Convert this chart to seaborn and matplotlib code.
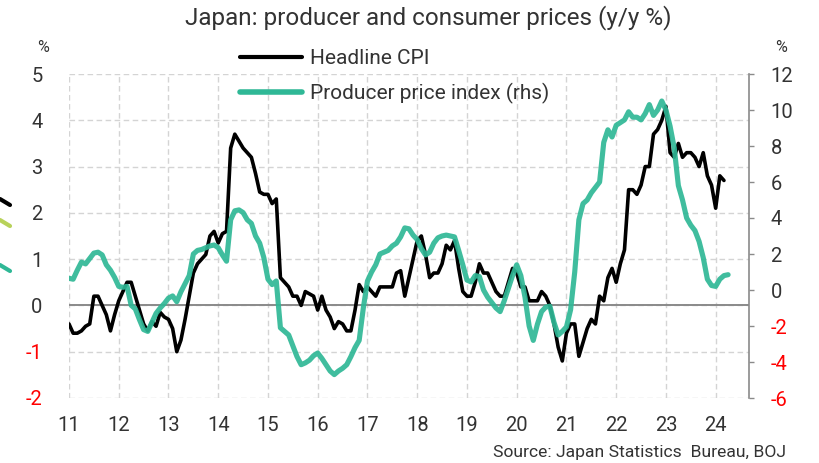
import matplotlib
matplotlib.use("Agg")
import matplotlib.pyplot as plt
from matplotlib.lines import Line2D
import numpy as np
import pandas as pd
import seaborn as sns

# ---- data (monthly, y/y %) ----
start_year = 2011
years = list(range(2011, 2025))
year_labels = [str(y)[2:] for y in years]

# Headline CPI, Jan 2011 - Mar 2024 (left axis)
cpi = [
    -0.4, -0.6, -0.6, -0.55, -0.45, -0.4, 0.2, 0.2, 0.0, -0.2, -0.55, -0.2,
    0.1, 0.3, 0.5, 0.5, 0.2, -0.1, -0.4, -0.55, -0.35, -0.45, -0.15, -0.25,
    -0.3, -0.5, -1.0, -0.75, -0.3, 0.2, 0.7, 0.9, 1.0, 1.1, 1.5, 1.6,
    1.35, 1.55, 1.6, 3.4, 3.7, 3.55, 3.4, 3.3, 3.2, 2.85, 2.45, 2.4,
    2.4, 2.2, 2.3, 0.6, 0.5, 0.4, 0.2, 0.2, 0.0, 0.3, 0.25, 0.2,
    -0.1, 0.2, -0.1, -0.25, -0.5, -0.35, -0.4, -0.55, -0.55, -0.1, 0.45, 0.3,
    0.4, 0.3, 0.2, 0.4, 0.4, 0.4, 0.4, 0.7, 0.75, 0.2, 0.6, 1.0,
    1.4, 1.5, 1.1, 0.6, 0.7, 0.7, 0.9, 1.3, 1.2, 1.4, 0.8, 0.3,
    0.2, 0.2, 0.5, 0.9, 0.7, 0.7, 0.5, 0.3, 0.2, 0.2, 0.5, 0.8,
    0.7, 0.4, 0.4, 0.1, 0.1, 0.1, 0.3, 0.2, 0.0, -0.4, -0.9, -1.2,
    -0.6, -0.4, -0.4, -1.1, -0.8, -0.5, -0.3, -0.4, 0.2, 0.1, 0.6, 0.8,
    0.5, 0.9, 1.2, 2.5, 2.5, 2.4, 2.6, 3.0, 3.0, 3.7, 3.8, 4.0,
    4.3, 3.3, 3.2, 3.5, 3.2, 3.3, 3.3, 3.2, 3.0, 3.3, 2.8, 2.6,
    2.1, 2.8, 2.7,
]

# Producer price index, Jan 2011 - Apr 2024 (right axis)
ppi = [
    0.65, 0.6, 1.1, 1.55, 1.45, 1.75, 2.05, 2.1, 1.95, 1.4, 1.1, 0.7,
    0.2, 0.15, 0.2, -0.85, -1.05, -1.65, -2.2, -2.3, -1.8, -1.3, -1.0, -0.75,
    -0.45, -0.33, -0.65, -0.1, 0.35, 0.8, 2.0, 2.2, 2.25, 2.35, 2.45, 2.5,
    2.35, 1.95, 1.6, 3.9, 4.4, 4.45, 4.3, 3.9, 3.7, 3.0, 2.6, 1.8,
    0.6, 0.3, 0.5, -2.1, -2.3, -2.5, -3.1, -3.7, -4.15, -4.05, -3.9, -3.65,
    -3.5, -3.8, -4.15, -4.5, -4.7, -4.5, -4.35, -4.15, -3.7, -3.2, -2.8, -1.0,
    0.5, 1.0, 1.4, 2.0, 2.1, 2.2, 2.45, 2.6, 2.95, 3.45, 3.4, 3.05,
    2.8, 2.3, 1.95, 2.1, 2.6, 2.9, 3.0, 3.05, 3.0, 2.95, 2.2, 1.4,
    0.55, 0.45, 0.8, 0.75, 0.0, -0.4, -0.7, -1.0, -1.2, -0.6, 0.1, 0.8,
    1.4, 0.8, -0.4, -2.0, -2.8, -1.9, -1.2, -0.95, -0.9, -1.8, -2.5, -2.3,
    -2.05, -1.1, 1.0, 3.9, 4.8, 5.0, 5.4, 5.7, 6.0, 8.2, 8.9, 8.5,
    9.15, 9.3, 9.45, 9.9, 9.6, 9.6, 9.45, 9.8, 10.3, 9.7, 10.0, 10.5,
    10.0, 9.1, 7.9, 5.8, 5.0, 4.0, 3.6, 3.3, 2.7, 1.8, 0.6, 0.25,
    0.2, 0.6, 0.8, 0.85,
]

left_ticks = [-2, -1, 0, 1, 2, 3, 4, 5]
right_ticks = [-6, -4, -2, 0, 2, 4, 6, 8, 10, 12]

cpi_df = pd.DataFrame({"t": start_year + np.arange(len(cpi)) / 12, "value": cpi})
ppi_df = pd.DataFrame({"t": start_year + np.arange(len(ppi)) / 12, "value": ppi})

# ---- style ----
sns.set_theme(style="white")
plt.rcParams["font.family"] = ["Roboto", "DejaVu Sans"]
plt.rcParams["font.weight"] = "normal"
TXT = "#333333"
RED = "#ff0000"
TEAL = "#2fb896"
GRID = "#d4d4d4"

fig = plt.figure(figsize=(8.2, 4.63), dpi=100)
ax = fig.add_axes([69 / 820, 1 - 398 / 463, 680 / 820, 324 / 463])
ax2 = ax.twinx()

# grid and zero line
ax.set_axisbelow(True)
ax.grid(True, color=GRID, linestyle=(0, (4, 2.5)), linewidth=1.0)
ax.axhline(0, color="#8a8a8a", linewidth=1.4, zorder=1)

sns.lineplot(data=cpi_df, x="t", y="value", ax=ax, color="black",
             linewidth=2.6, zorder=3)
sns.lineplot(data=ppi_df, x="t", y="value", ax=ax2, color=TEAL,
             linewidth=3.7, alpha=0.92, zorder=3)

ax.set_xlim(2011, 2024.67)
ax.set_ylim(-2, 5)
ax2.set_ylim(-6, 12)
ax.set_xticks(years)
ax.set_xticklabels(year_labels)
ax.set_yticks(left_ticks)
ax.set_yticklabels([str(v) for v in left_ticks])
ax2.set_yticks(right_ticks)
ax2.set_yticklabels([str(v) for v in right_ticks])
ax.set_xlabel("")
ax.set_ylabel("")
ax2.set_ylabel("")

for s in ax.spines.values():
    s.set_visible(False)
for k, s in ax2.spines.items():
    s.set_visible(k == "right")
ax2.spines["right"].set_color("#8a8a8a")
ax2.spines["right"].set_linewidth(1.2)

ax.tick_params(axis="y", length=0, pad=19, labelsize=14.5, labelcolor=TXT)
ax.tick_params(axis="x", length=0, pad=13, labelsize=14.5, labelcolor=TXT)
ax2.tick_params(axis="y", length=3.5, width=1.0, color="#8a8a8a", pad=12,
                labelsize=14.5, labelcolor=TXT, direction="out")
for lbl, v in zip(ax.get_yticklabels(), left_ticks):
    if v < 0:
        lbl.set_color(RED)
for lbl, v in zip(ax2.get_yticklabels(), right_ticks):
    if v < 0:
        lbl.set_color(RED)

# title, units, legend, source
fig.text(428 / 820, 1 - 18 / 463, "Japan: producer and consumer prices (y/y %)",
         ha="center", va="center", fontsize=17.5, color=TXT)
fig.text(43 / 820, 1 - 47 / 463, "%", ha="center", va="center", fontsize=11.5, color=TXT)
fig.text(781 / 820, 1 - 47 / 463, "%", ha="center", va="center", fontsize=11.5, color=TXT)

handles = [
    Line2D([], [], color="black", linewidth=3.0, solid_capstyle="round"),
    Line2D([], [], color=TEAL, linewidth=4.0, solid_capstyle="round"),
]
fig.legend(handles, ["Headline CPI", "Producer price index (rhs)"],
           loc="upper left", bbox_to_anchor=(240 / 820, 1 - 49 / 463),
           frameon=False, fontsize=15, handlelength=3.0, handletextpad=0.35,
           labelspacing=0.7, borderaxespad=0, borderpad=0, labelcolor=TXT)

fig.text(786 / 820, 1 - 452 / 463, "Source: Japan Statistics  Bureau, BOJ",
         ha="right", va="center", fontsize=12.6, color=TXT)

# partial strokes at the left margin
for (y0, y1), c in zip([(199, 205), (220, 226), (265, 271)],
                       ["black", "#b8d25a", TEAL]):
    fig.add_artist(Line2D([0, 10 / 820], [1 - y0 / 463, 1 - y1 / 463],
                          color=c, linewidth=3.0, solid_capstyle="round",
                          transform=fig.transFigure))

fig.savefig("out.png", dpi=100)
